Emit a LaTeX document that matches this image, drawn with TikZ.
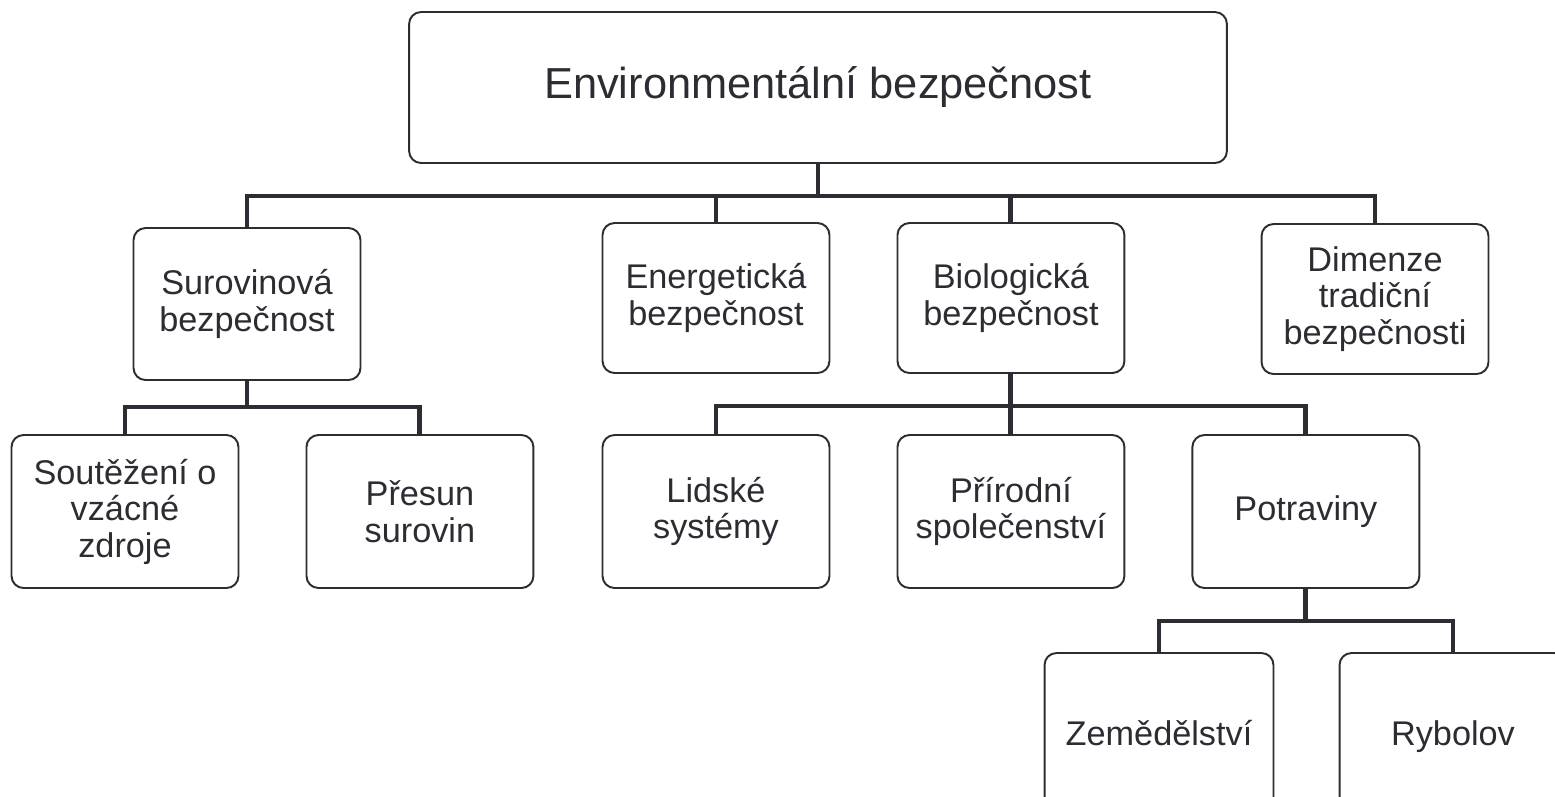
\documentclass[tikz,border=0pt]{standalone}
\usepackage{fontspec}
\setmainfont{Liberation Sans}
\definecolor{ink}{RGB}{43,45,51}

\begin{document}
\begin{tikzpicture}[x=0.02cm, y=-0.02cm, node distance=5.9cm,
  box/.style={draw=ink, text=ink, line width=1.1pt, rounded corners=0.24cm,
    align=center, minimum width=4.54cm, minimum height=3.04cm,
    font=\fontsize{19.5}{20.8}\selectfont},
  conn/.style={draw=ink, line width=2.8pt}]
\useasboundingbox (0,0) rectangle (1555,796);
\clip (0,0) rectangle (1555,796);
\node  (env)[box, minimum width=16.36cm, minimum height=3.02cm, font=\fontsize{24.7}{28}\selectfont] at (818,87.5) {Environmentální bezpečnost};
\node  (sur)[box] at (247,304) {Surovinová\\bezpečnost};
\node  (ene)[box, minimum height=3cm] at (716,298) {Energetická\\bezpečnost};
\node  (bio)[box, minimum height=3cm] [right of = ene] {Biologická\\bezpečnost};
\node  (dim)[box, minimum height=3cm] at (1375,299) {Dimenze\\tradiční\\bezpečnosti};
\node  (sou)[box, minimum height=3.06cm] at (125,511.5) {Soutěžení o\\vzácné\\zdroje};
\node  (pre)[box, minimum height=3.06cm] [right of = sou] {Přesun\\surovin};
\node  (lid)[box, minimum height=3.06cm] at (716,511.5) {Lidské\\systémy};
\node  (pri)[box, minimum height=3.06cm] [right of = lid] {Přírodní\\společenství};
\node  (pot)[box, minimum height=3.06cm] [right of = pri] {Potraviny};
\node  (zem)[box, minimum width=4.58cm, minimum height=3.2cm, text depth=0pt] at (1159,733) {Zemědělství};
\node  (ryb)[box, minimum height=3.2cm, text depth=0pt] at (1453,733) {Rybolov};
\draw[conn] (env.south) -- ++(0,32) -| (sur.north);
\draw[conn] (env.south) -- ++(0,32) -| (ene.north);
\draw[conn] (env.south) -- ++(0,32) -| (bio.north);
\draw[conn] (env.south) -- ++(0,32) -| (dim.north);
\draw[conn] (sur.south) -- ++(0,26) -| (sou.north);
\draw[conn] (sur.south) -- ++(0,26) -| (pre.north);
\draw[conn] (bio.south) -- ++(0,32) -| (lid.north);
\draw[conn] (bio.south) -- ++(0,32) -| (pri.north);
\draw[conn] (bio.south) -- ++(0,32) -| (pot.north);
\draw[conn] (pot.south) -- ++(0,32) -| (zem.north);
\draw[conn] (pot.south) -- ++(0,32) -| (ryb.north);
\end{tikzpicture}
\end{document}
